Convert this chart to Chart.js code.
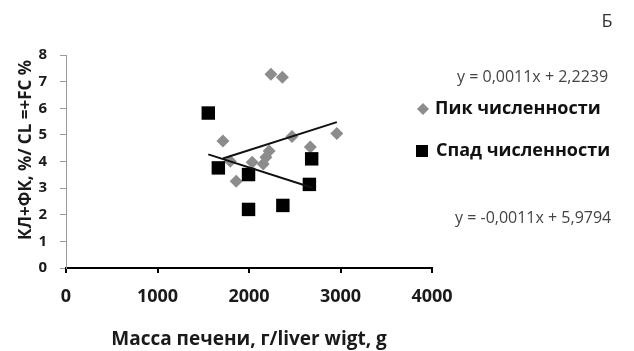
<!DOCTYPE html>
<html>
<head>
<meta charset="utf-8">
<script src="https://cdn.jsdelivr.net/npm/chart.js@4"></script>
<style>
  html, body { margin: 0; padding: 0; background: #fff; }
  #wrap { width: 634px; height: 351px; position: relative; }
</style>
</head>
<body>
<div id="wrap"><canvas id="liverChart"></canvas></div>
<script>
// Peak population (grey diamonds): liver mass, g / CL+FC %
const peakMass = [2240, 2365, 2960, 2470, 1715, 2670, 2220, 2185, 2155, 2035, 1795, 1860];
const peakPct  = [7.28, 7.16, 5.05, 4.94, 4.77, 4.54, 4.39, 4.16, 3.91, 3.97, 4.01, 3.26];

// Population decline (black squares)
const declineMass = [1555, 1665, 1995, 1995, 2370, 2685, 2660];
const declinePct  = [5.82, 3.76, 3.51, 2.20, 2.35, 4.10, 3.14];

// Linear trend coefficients, as printed next to the plot
const peakSlope = 0.0011, peakIntercept = 2.2239;
const declineSlope = -0.0011, declineIntercept = 5.9794;

const xTicks = [0, 1000, 2000, 3000, 4000];
const yTicks = [0, 1, 2, 3, 4, 5, 6, 7, 8];

const legendNames = ['Пик численности', 'Спад численности'];
const peakEquation = 'y = 0,0011x + 2,2239';
const declineEquation = 'y = -0,0011x + 5,9794';
const panelLetter = 'Б';
const yTitle = 'КЛ+ФК, %/ CL =+FC %';

const FONT = "'Open Sans', 'Noto Sans', sans-serif";
const GREY = '#8c8c8c';

const toPoints = (xs, ys) => xs.map((x, i) => ({ x, y: ys[i] }));

function trend(xs, slope, intercept) {
  const lo = Math.min(...xs), hi = Math.max(...xs);
  return [{ x: lo, y: slope * lo + intercept }, { x: hi, y: slope * hi + intercept }];
}

// legend, equations, panel letter and the vertical axis title
const sideText = {
  id: 'sideText',
  afterDraw(chart) {
    const ctx = chart.ctx;
    ctx.save();
    ctx.textBaseline = 'middle';

    ctx.fillStyle = '#444';
    ctx.font = `16px ${FONT}`;
    ctx.fillText(peakEquation, 457, 77);
    ctx.fillText(declineEquation, 455, 218);

    ctx.fillStyle = '#333';
    ctx.font = `18px ${FONT}`;
    ctx.textAlign = 'center';
    ctx.fillText(panelLetter, 607, 22);

    // rotated y title, centred a little above the plot middle
    ctx.save();
    ctx.translate(26, 150);
    ctx.rotate(-Math.PI / 2);
    ctx.fillStyle = '#1a1a1a';
    ctx.font = `bold 17px ${FONT}`;
    ctx.fillText(yTitle, 0, 0);
    ctx.restore();
    ctx.textAlign = 'left';

    // diamond marker
    ctx.fillStyle = GREY;
    ctx.beginPath();
    ctx.moveTo(423, 103); ctx.lineTo(429, 109); ctx.lineTo(423, 115); ctx.lineTo(417, 109);
    ctx.closePath();
    ctx.fill();
    // square marker
    ctx.fillStyle = '#000';
    ctx.fillRect(416, 145, 12, 12);

    ctx.fillStyle = '#111';
    ctx.font = `bold 18px ${FONT}`;
    ctx.fillText(legendNames[0], 435, 109);
    ctx.fillText(legendNames[1], 436, 151);
    ctx.restore();
  }
};

new Chart(document.getElementById('liverChart'), {
  type: 'scatter',
  data: {
    datasets: [
      {
        type: 'line',
        data: trend(peakMass, peakSlope, peakIntercept),
        borderColor: '#111',
        borderWidth: 2,
        pointRadius: 0,
        order: 0
      },
      {
        type: 'line',
        data: trend(declineMass, declineSlope, declineIntercept),
        borderColor: '#111',
        borderWidth: 2,
        pointRadius: 0,
        order: 0
      },
      {
        label: legendNames[0],
        data: toPoints(peakMass, peakPct),
        pointStyle: 'rectRot',
        pointRadius: 6.5,
        backgroundColor: GREY,
        borderColor: GREY,
        borderWidth: 0,
        order: 2
      },
      {
        label: legendNames[1],
        data: toPoints(declineMass, declinePct),
        pointStyle: 'rect',
        pointRadius: 9.5,
        backgroundColor: '#000',
        borderColor: '#000',
        borderWidth: 0,
        order: 1
      }
    ]
  },
  options: {
    responsive: true,
    maintainAspectRatio: false,
    animation: false,
    layout: { padding: { top: 55, right: 202, bottom: 0, left: 0 } },
    plugins: { legend: { display: false }, tooltip: { enabled: false } },
    scales: {
      x: {
        type: 'linear',
        min: xTicks[0],
        max: xTicks[xTicks.length - 1],
        afterBuildTicks: s => { s.ticks = xTicks.map(v => ({ value: v })); },
        afterFit: s => { s.height = 83; },
        border: { color: '#000', width: 2 },
        grid: { drawOnChartArea: false, color: '#000', lineWidth: 2, tickLength: 5 },
        ticks: {
          color: '#1a1a1a',
          padding: 13,
          font: { family: FONT, size: 18, weight: 'bold' },
          callback: v => String(v)
        },
        title: {
          display: true,
          text: 'Масса печени, г/liver wigt, g',
          color: '#1a1a1a',
          padding: { top: 0, bottom: 0 },
          font: { family: FONT, size: 19, weight: 'bold' }
        }
      },
      y: {
        min: yTicks[0],
        max: yTicks[yTicks.length - 1],
        afterBuildTicks: s => { s.ticks = yTicks.map(v => ({ value: v })); },
        afterFit: s => { s.width = 66; },
        border: { color: '#9a9a9a', width: 1 },
        grid: { drawOnChartArea: false, color: '#9a9a9a', tickLength: 6 },
        ticks: { color: '#1a1a1a', padding: 13, font: { family: FONT, size: 15, weight: 'bold' } }
      }
    }
  },
  plugins: [sideText]
});
</script>
</body>
</html>
